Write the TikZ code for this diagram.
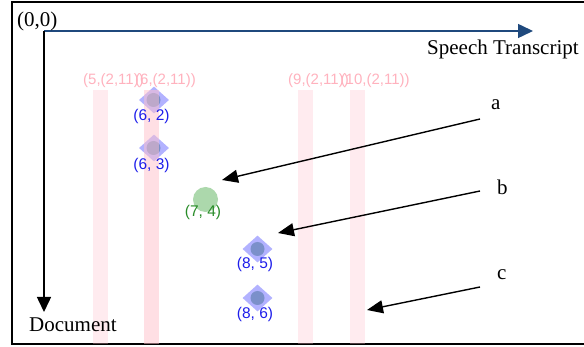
\documentclass[tikz,border=0pt]{standalone}
\usepackage{fontspec}
\setmainfont{Liberation Serif}
\newfontfamily\labelsans{Liberation Sans}
\usetikzlibrary{arrows.meta,shapes.geometric}
\definecolor{axisblue}{RGB}{31,73,125}
\definecolor{barpink}{RGB}{255,192,203}
\definecolor{barlabel}{RGB}{255,178,190}
\definecolor{ptblue}{RGB}{30,30,235}
\definecolor{ptgreen}{RGB}{40,140,40}
\definecolor{dotfill}{RGB}{100,130,180}
\definecolor{greenfill}{RGB}{172,216,172}
\begin{document}
\begin{tikzpicture}[x=1pt,y=-1pt,
 serif/.style={font=\fontsize{21}{25}\selectfont, inner sep=0pt, anchor=base west},
 barlab/.style={font=\labelsans\fontsize{15}{18}\selectfont, text=barlabel, inner sep=0pt, anchor=base west},
 ptlab/.style={font=\labelsans\fontsize{15.5}{18}\selectfont, inner sep=0pt, anchor=base},
 bar/.style={rectangle, fill=barpink, fill opacity=0.3, draw=none, minimum width=15pt, minimum height=254pt, inner sep=0pt, anchor=north},
 diam/.style={diamond, fill=blue, fill opacity=0.3, draw=none, minimum width=30pt, minimum height=27pt, inner sep=0pt},
 dotmark/.style={circle, fill=dotfill, fill opacity=0.7, minimum size=14pt, inner sep=0pt},
 pointer/.style={draw=black, line width=1.4pt, -{Triangle[length=16pt,width=13pt]}},
 axis/.style={line width=1.5pt, -{Triangle[length=15pt,width=14pt]}},
]
\useasboundingbox (0,0) rectangle (584,347);
\fill[white] (0,0) rectangle (584,347);
\draw[line width=2pt] (11.5,2) rectangle (590,344);

% points
\node[diam] (d62) at (154,100) {};
\node[dotmark] (c62) at (153.5,100) {};
\node[diam] (d63) at (154,148) {};
\node[dotmark] (c63) at (153.5,148) {};
\node[diam] (d85) at (257.5,249) {};
\node[dotmark] (c85) at (257.5,249) {};
\node[diam] (d86) at (257.5,298) {};
\node[dotmark] (c86) at (257.5,298) {};
\node[circle, fill=greenfill, minimum size=25pt, inner sep=0pt] (p74) at (205.5,199.5) {};

% bars
\node[bar] (bar5) at (100.5,90) {};
\node[bar, fill opacity=0.5] (bar6) at (151.5,90) {};
\node[bar] (bar9) at (305.5,90) {};
\node[bar] (bar10) at (357,90) {};

% bar labels
\node[barlab] (lb5) at (83,85) {(5,(2,11))};
\node[barlab] (lb6) at (135,85) {(6,(2,11))};
\node[barlab] (lb9) at (288,85) {(9,(2,11))};
\node[barlab] (lb10) at (340.5,85) {(10,(2,11))};

% point labels
\node[ptlab, text=ptblue] (l62) at (151.5,121) {(6, 2)};
\node[ptlab, text=ptblue] (l63) at (151.5,170) {(6, 3)};
\node[ptlab, text=ptgreen] (l74) at (203,217) {(7, 4)};
\node[ptlab, text=ptblue] (l85) at (255,269) {(8, 5)};
\node[ptlab, text=ptblue] (l86) at (255,319) {(8, 6)};

% axes
\coordinate (O) at (44,31);
\coordinate (X) at (533,31);
\coordinate (Y) at (44,312);
\draw[axis, draw=axisblue, fill=axisblue] (O) -- (X);
\draw[axis, draw=black] (O) -- (Y);
\node[serif] (origin) at (17,26.5) {(0,0)};
\node[serif] (xlab) at (427,55) {Speech Transcript};
\node[serif] (ylab) at (29,331.5) {Document};

% callouts
\node[serif] (la) at (491,110) {a};
\node[serif] (lbb) at (497,195) {b};
\node[serif] (lc) at (497,280) {c};
\coordinate (afrom) at (480,119);
\coordinate (ato) at (222,180);
\coordinate (bfrom) at (480,191);
\coordinate (bto) at (278,233);
\coordinate (cfrom) at (480,287);
\coordinate (cto) at (367,310);
\draw[pointer] (afrom) -- (ato);
\draw[pointer] (bfrom) -- (bto);
\draw[pointer] (cfrom) -- (cto);
\end{tikzpicture}
\end{document}
